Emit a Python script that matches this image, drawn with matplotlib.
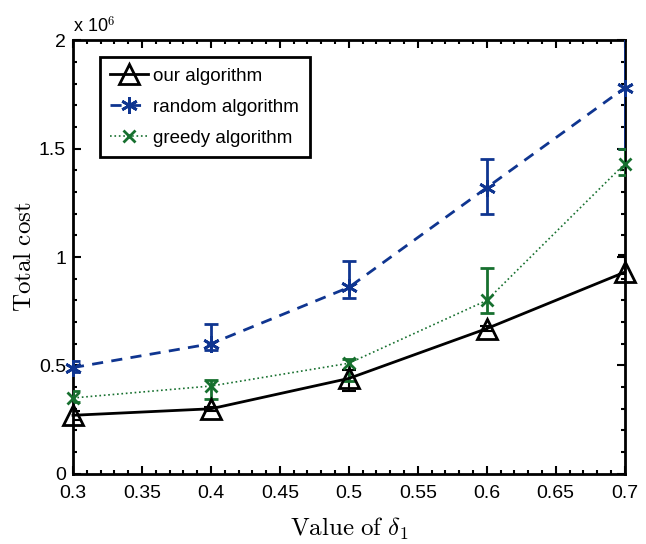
import matplotlib
matplotlib.use('Agg')
import matplotlib.pyplot as plt
from matplotlib.ticker import FuncFormatter, MultipleLocator

plt.rcParams['font.family'] = ['Liberation Sans', 'DejaVu Sans']
plt.rcParams['mathtext.fontset'] = 'cm'

# 数据
delta = [0.3, 0.4, 0.5, 0.6, 0.7]

our_cost = [0.27e6, 0.30e6, 0.44e6, 0.67e6, 0.93e6]
our_low = [0.02e6, 0.01e6, 0.06e6, 0.01e6, 0.01e6]
our_up = [0.02e6, 0.01e6, 0.04e6, 0.01e6, 0.08e6]

random_cost = [0.49e6, 0.60e6, 0.86e6, 1.32e6, 1.78e6]
random_low = [0.02e6, 0.03e6, 0.05e6, 0.12e6, 0.28e6]
random_up = [0.03e6, 0.09e6, 0.12e6, 0.13e6, 0.28e6]

greedy_cost = [0.35e6, 0.405e6, 0.51e6, 0.80e6, 1.43e6]
greedy_low = [0.02e6, 0.06e6, 0.08e6, 0.06e6, 0.05e6]
greedy_up = [0.03e6, 0.03e6, 0.02e6, 0.15e6, 0.07e6]

blue = '#0f3590'
green = '#17702f'

fig = plt.figure(figsize=(6.46, 5.44), dpi=100)
ax = fig.add_axes([0.113, 0.129, 0.854, 0.797])

# 误差棒
ax.errorbar(delta, our_cost, yerr=[our_low, our_up], fmt='none', ecolor='k', elinewidth=1.5,
            capsize=5, capthick=1.5, zorder=3)
ax.errorbar(delta, random_cost, yerr=[random_low, random_up], fmt='none', ecolor=blue, elinewidth=2,
            capsize=5, capthick=2, zorder=3)
ax.errorbar(delta, greedy_cost, yerr=[greedy_low, greedy_up], fmt='none', ecolor=green, elinewidth=2,
            capsize=5, capthick=2, zorder=3)

# 曲线
ax.plot(delta, our_cost, '-', color='k', lw=2, marker='^', ms=14, mfc='none', mew=2,
        label='our algorithm', clip_on=False, zorder=5)
ax.plot(delta, random_cost, '--', color=blue, lw=2, dashes=(4, 3), marker=(6, 2, 0), ms=12, mew=2,
        label='random algorithm', clip_on=False, zorder=5)
ax.plot(delta, greedy_cost, ':', color=green, lw=1.2, marker='x', ms=9, mew=2,
        label='greedy algorithm', clip_on=False, zorder=5)

ax.set_xlim(0.3, 0.7)
ax.set_ylim(0, 2e6)
ax.xaxis.set_major_locator(MultipleLocator(0.05))
ax.xaxis.set_minor_locator(MultipleLocator(0.01))
ax.yaxis.set_major_locator(MultipleLocator(0.5e6))
ax.yaxis.set_minor_locator(MultipleLocator(0.1e6))
ax.xaxis.set_major_formatter(FuncFormatter(lambda v, p: '%g' % round(v, 2)))
ax.yaxis.set_major_formatter(FuncFormatter(lambda v, p: '%g' % (v / 1e6)))
ax.tick_params(which='both', direction='in', top=True, right=True, labelsize=14, width=1.5)
ax.tick_params(which='major', length=6)
ax.tick_params(which='minor', length=3)
ax.tick_params(axis='x', pad=8)
ax.tick_params(axis='y', pad=5)
for s in ax.spines.values():
    s.set_linewidth(2)

ax.text(0.0, 1.01, r'x 10$^{6}$', transform=ax.transAxes, fontsize=13, ha='left', va='bottom')

ax.set_xlabel(r'$\mathrm{Value\ of}\ \delta_1$', fontsize=18, labelpad=10)
ax.set_ylabel(r'$\mathrm{Total\ cost}$', fontsize=18, labelpad=2)

leg = ax.legend(loc='upper left', bbox_to_anchor=(0.049, 0.961), borderaxespad=0, fontsize=13.5,
                handlelength=2.0, handletextpad=0.3, borderpad=0.55, labelspacing=0.75,
                fancybox=False, framealpha=1)
leg.get_frame().set_edgecolor('k')
leg.get_frame().set_linewidth(2)

plt.savefig('out.png', dpi=100)
